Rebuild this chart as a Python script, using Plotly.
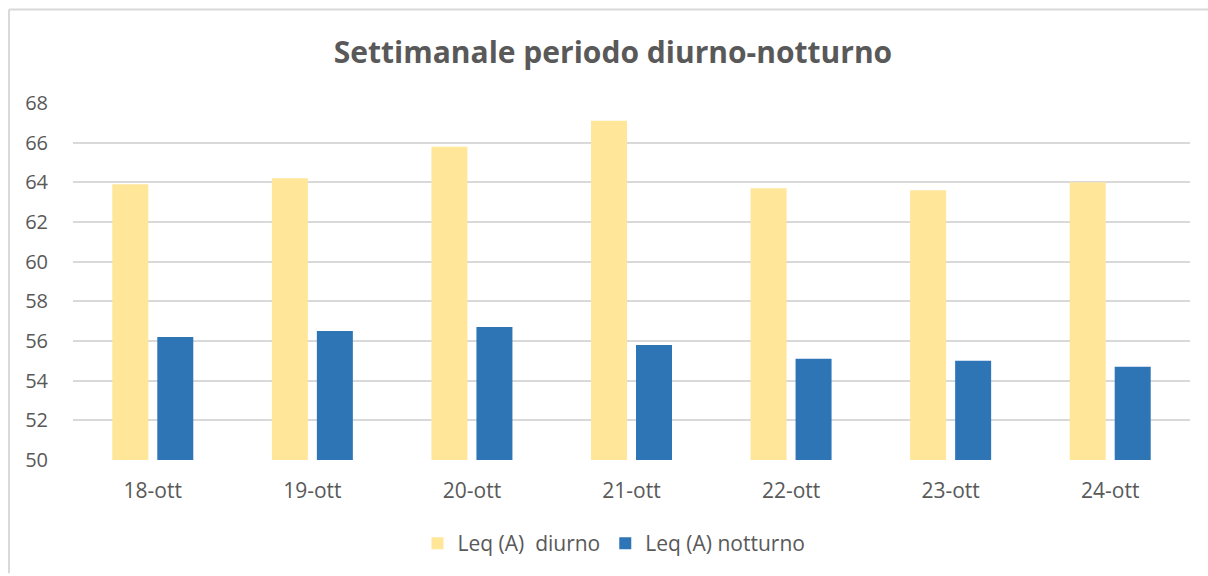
import plotly.graph_objects as go

categories = ["18-ott", "19-ott", "20-ott", "21-ott", "22-ott", "23-ott", "24-ott"]
diurno = [63.9, 64.2, 65.8, 67.1, 63.7, 63.6, 64.0]
notturno = [56.2, 56.5, 56.7, 55.8, 55.1, 55.0, 54.7]
y_ticks = [50, 52, 54, 56, 58, 60, 62, 64, 66, 68]

FONT = "Open Sans"
GREY = "#595959"

fig = go.Figure()
fig.add_trace(go.Bar(x=categories, y=diurno, name="Leq (A)  diurno",
                     marker=dict(color="#FFE699", line=dict(width=0))))
fig.add_trace(go.Bar(x=categories, y=notturno, name="Leq (A) notturno",
                     marker=dict(color="#2E75B6", line=dict(width=0))))

W, H = 1208, 576
L, R, T, B = 73, 18, 103, 114
pw, ph = W - L - R, H - T - B

def px_x(x):
    return (x - L) / pw

def px_y(y):
    return (H - B - y) / ph

fig.update_layout(
    width=W, height=H,
    margin=dict(l=L, r=R, t=T, b=B),
    paper_bgcolor="white", plot_bgcolor="white",
    barmode="group", bargap=0.436, bargroupgap=0.2,
    title=dict(text="<b>Settimanale periodo diurno-notturno</b>",
               x=613 / W, xanchor="center", y=1 - 52 / H, yanchor="middle",
               font=dict(family=FONT, size=30, color=GREY)),
    font=dict(family=FONT, size=20, color=GREY),
    showlegend=True,
    legend=dict(orientation="h", x=px_x(614), xanchor="center",
                y=px_y(546), yanchor="middle",
                font=dict(family=FONT, size=21, color=GREY),
                itemwidth=30, traceorder="normal"),
    xaxis=dict(showgrid=False, showline=False, zeroline=False,
               ticks="outside", ticklen=12, tickcolor="rgba(0,0,0,0)",
               tickfont=dict(family=FONT, size=21, color=GREY)),
    yaxis=dict(range=[50, 68], tickvals=y_ticks, showgrid=True,
               gridcolor="#d9d9d9", gridwidth=1.5, zeroline=False, showline=False,
               ticks="outside", ticklen=20, tickcolor="rgba(0,0,0,0)",
               tickfont=dict(family=FONT, size=20, color=GREY)),
    shapes=[
        dict(type="line", xref="paper", yref="paper",
             x0=px_x(9), x1=px_x(9), y0=px_y(9), y1=px_y(576),
             line=dict(color="#d9d9d9", width=2)),
        dict(type="line", xref="paper", yref="paper",
             x0=px_x(9), x1=px_x(1208), y0=px_y(9), y1=px_y(9),
             line=dict(color="#d9d9d9", width=2)),
    ],
)

fig.write_html("out.html", config={"displayModeBar": False},
               post_script="document.body.style.margin='0';")
